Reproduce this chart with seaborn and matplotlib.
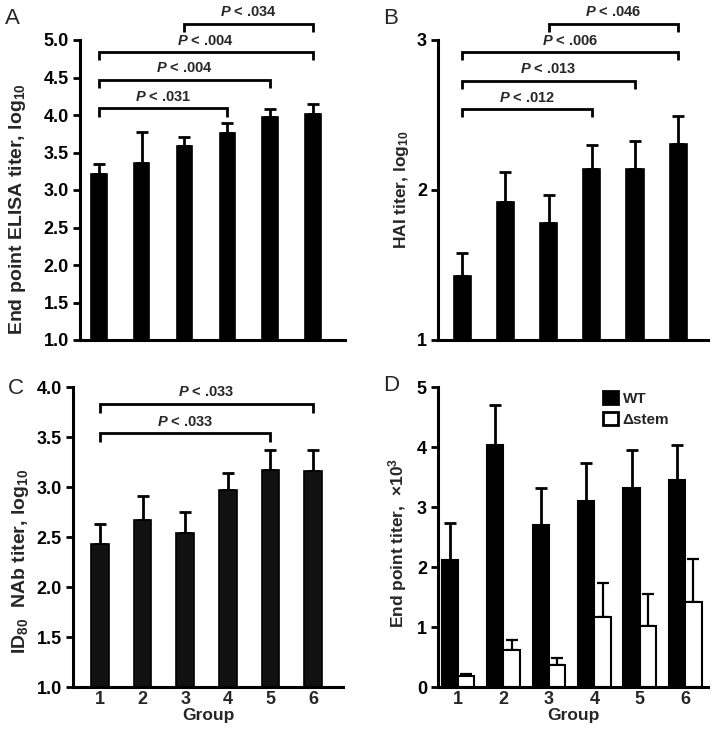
import numpy as np
import pandas as pd
import matplotlib
matplotlib.use("Agg")
import matplotlib.pyplot as plt
import seaborn as sns

# ---------------- data ----------------
groups = ["1", "2", "3", "4", "5", "6"]

elisa_mean = [3.21, 3.36, 3.59, 3.76, 3.98, 4.02]
elisa_upper = [3.35, 3.77, 3.71, 3.89, 4.08, 4.15]

hai_mean = [1.43, 1.92, 1.78, 2.14, 2.14, 2.31]
hai_upper = [1.58, 2.12, 1.97, 2.30, 2.33, 2.49]

nab_mean = [2.43, 2.67, 2.54, 2.97, 3.17, 3.16]
nab_upper = [2.63, 2.91, 2.75, 3.14, 3.37, 3.37]

wt_mean = [2.11, 4.04, 2.70, 3.10, 3.31, 3.45]
wt_upper = [2.73, 4.70, 3.32, 3.74, 3.95, 4.04]
dstem_mean = [0.18, 0.62, 0.37, 1.16, 1.01, 1.42]
dstem_upper = [0.21, 0.79, 0.48, 1.73, 1.55, 2.14]
strains = ["WT", "\u0394stem"]

# brackets: (group i, group j, bar height, text)
elisa_brackets = [(1, 4, 4.09, "P < .031"), (1, 5, 4.47, "P < .004"),
                  (1, 6, 4.84, "P < .004"), (3, 6, 5.22, "P < .034")]
hai_brackets = [(1, 4, 2.54, "P < .012"), (1, 5, 2.73, "P < .013"),
                (1, 6, 2.92, "P < .006"), (3, 6, 3.11, "P < .046")]
nab_brackets = [(1, 5, 3.54, "P < .033"), (1, 6, 3.83, "P < .033")]

# ---------------- style ----------------
sns.set_style("ticks")
plt.rcParams["font.family"] = ["Liberation Sans", "DejaVu Sans"]
plt.rcParams["font.weight"] = "bold"
plt.rcParams["mathtext.fontset"] = "custom"
plt.rcParams["mathtext.rm"] = "Liberation Sans:bold"
plt.rcParams["mathtext.bf"] = "Liberation Sans:bold"
plt.rcParams["mathtext.it"] = "Liberation Sans:italic:bold"
plt.rcParams["mathtext.default"] = "rm"

W, H = 715, 733
fig = plt.figure(figsize=(W / 100, H / 100), dpi=100)


def px_axes(l, t, r, b):
    return fig.add_axes([l / W, 1 - b / H, (r - l) / W, (b - t) / H])


axA = px_axes(80, 40, 345, 340)
axB = px_axes(438, 40, 708, 340)
axC = px_axes(73, 387, 343, 687)
axD = px_axes(438, 387, 708, 687)

SPINE_LW = 2.2
TICK_FS = 13
LABEL_FS = 12.5
P_FS = 10.5


def style_axis(ax, show_x):
    sns.despine(ax=ax)
    for s in ["left", "bottom"]:
        ax.spines[s].set_linewidth(SPINE_LW)
        ax.spines[s].set_color("black")
    ax.tick_params(axis="y", width=2, length=5, labelsize=TICK_FS, pad=3, colors="black")
    ax.tick_params(axis="x", length=0, labelsize=TICK_FS, pad=3)
    if not show_x:
        ax.set_xticklabels([])
        ax.set_xlabel("")
    for lab in ax.get_yticklabels() + ax.get_xticklabels():
        lab.set_fontweight("bold")


def bar_centers(container):
    return [p.get_x() + p.get_width() / 2 for p in container.patches]


def add_errors(ax, xs, means, uppers, lw=2.0):
    means = np.asarray(means)
    uppers = np.asarray(uppers)
    ax.errorbar(xs, means, yerr=[np.zeros_like(means), uppers - means],
                fmt="none", ecolor="black", elinewidth=lw, capsize=4.5,
                capthick=lw, zorder=1)


def add_brackets(ax, xs, brackets, drop, text_off):
    for i, j, y, txt in brackets:
        x1, x2 = xs[i - 1], xs[j - 1]
        ax.plot([x1, x1, x2, x2], [y - drop, y, y, y - drop], color="black",
                lw=2, clip_on=False, solid_joinstyle="miter", solid_capstyle="butt")
        label = r"$\mathit{P}$" + txt[1:]
        ax.text((x1 + x2) / 2, y + text_off, label, ha="center", va="center",
                fontsize=P_FS, fontweight="bold", clip_on=False)


def simple_panel(ax, means, uppers, width, facecolor, ylim, yticks, fmt):
    df = pd.DataFrame({"Group": groups, "value": means})
    sns.barplot(data=df, x="Group", y="value", color=facecolor, saturation=1,
                width=width, errorbar=None, edgecolor="black", linewidth=1.2,
                ax=ax, zorder=2)
    xs = bar_centers(ax.containers[0])
    add_errors(ax, xs, means, uppers)
    ax.set_ylim(*ylim)
    ax.set_yticks(yticks)
    ax.set_yticklabels([fmt.format(t) for t in yticks])
    return xs


# ---- Panel A ----
xsA = simple_panel(axA, elisa_mean, elisa_upper, 0.36, "black", (1, 5),
                   np.arange(1.0, 5.01, 0.5), "{:.1f}")
axA.set_xlim(-0.44, 5.75)
style_axis(axA, False)
add_brackets(axA, xsA, elisa_brackets, 0.11, 0.15)
axA.set_ylabel("End point ELISA titer, log$_{10}$", fontsize=14, fontweight="bold")
axA.yaxis.set_label_coords((28 - 80) / 265, 0.435)

# ---- Panel B ----
xsB = simple_panel(axB, hai_mean, hai_upper, 0.40, "black", (1, 3),
                   [1, 2, 3], "{:d}")
axB.set_xlim(-0.56, 5.69)
style_axis(axB, False)
add_brackets(axB, xsB, hai_brackets, 0.055, 0.075)
axB.set_ylabel("HAI titer, log$_{10}$", fontsize=LABEL_FS, fontweight="bold")
axB.yaxis.set_label_coords((411 - 438) / 270, 0.5)

# ---- Panel C ----
xsC = simple_panel(axC, nab_mean, nab_upper, 0.41, "#111111", (1, 4),
                   np.arange(1.0, 4.01, 0.5), "{:.1f}")
axC.set_xlim(-0.63, 5.70)
style_axis(axC, True)
add_brackets(axC, xsC, nab_brackets, 0.09, 0.115)
axC.set_ylabel("ID$_{80}$  NAb titer, log$_{10}$", fontsize=14, fontweight="bold")
axC.yaxis.set_label_coords((31 - 73) / 270, 0.42)
axC.set_xlabel("Group", fontsize=LABEL_FS, fontweight="bold", labelpad=0)

# ---- Panel D ----
dfD = pd.DataFrame({
    "Group": groups * 2,
    "value": wt_mean + dstem_mean,
    "strain": [strains[0]] * 6 + [strains[1]] * 6,
})
sns.barplot(data=dfD, x="Group", y="value", hue="strain", hue_order=strains,
            palette={strains[0]: "black", strains[1]: "white"}, saturation=1,
            width=0.72, errorbar=None, edgecolor="black", linewidth=1.5,
            ax=axD, zorder=2)
xs_wt = bar_centers(axD.containers[0])
xs_ds = bar_centers(axD.containers[1])
add_errors(axD, xs_wt, wt_mean, wt_upper, lw=2.0)
add_errors(axD, xs_ds, dstem_mean, dstem_upper, lw=1.6)
axD.set_ylim(0, 5)
axD.set_yticks([0, 1, 2, 3, 4, 5])
axD.set_xlim(-0.44, 5.5)
style_axis(axD, True)
axD.set_ylabel("End point titer,  \u00d710$^{3}$", fontsize=LABEL_FS, fontweight="bold")
axD.yaxis.set_label_coords((409 - 438) / 270, 0.48)
axD.set_xlabel("Group", fontsize=LABEL_FS, fontweight="bold", labelpad=0)
handles, labels = axD.get_legend_handles_labels()
for h in handles:
    h.set_linewidth(2)
axD.legend(handles, labels, loc="upper left",
           bbox_to_anchor=((603 - 438) / 270, (687 - 391) / 300),
           frameon=False, borderaxespad=0, borderpad=0,
           handlelength=0.95, handleheight=0.95, labelspacing=0.4,
           handletextpad=0.35, prop={"weight": "bold", "size": 11})

# panel letters
for letter, x, y in [("A", 5, 8), ("B", 383, 8), ("C", 8, 378), ("D", 383, 375)]:
    fig.text(x / W, 1 - y / H, letter, fontsize=16, fontweight="normal",
             ha="left", va="top")

fig.savefig("out.png", dpi=100)
